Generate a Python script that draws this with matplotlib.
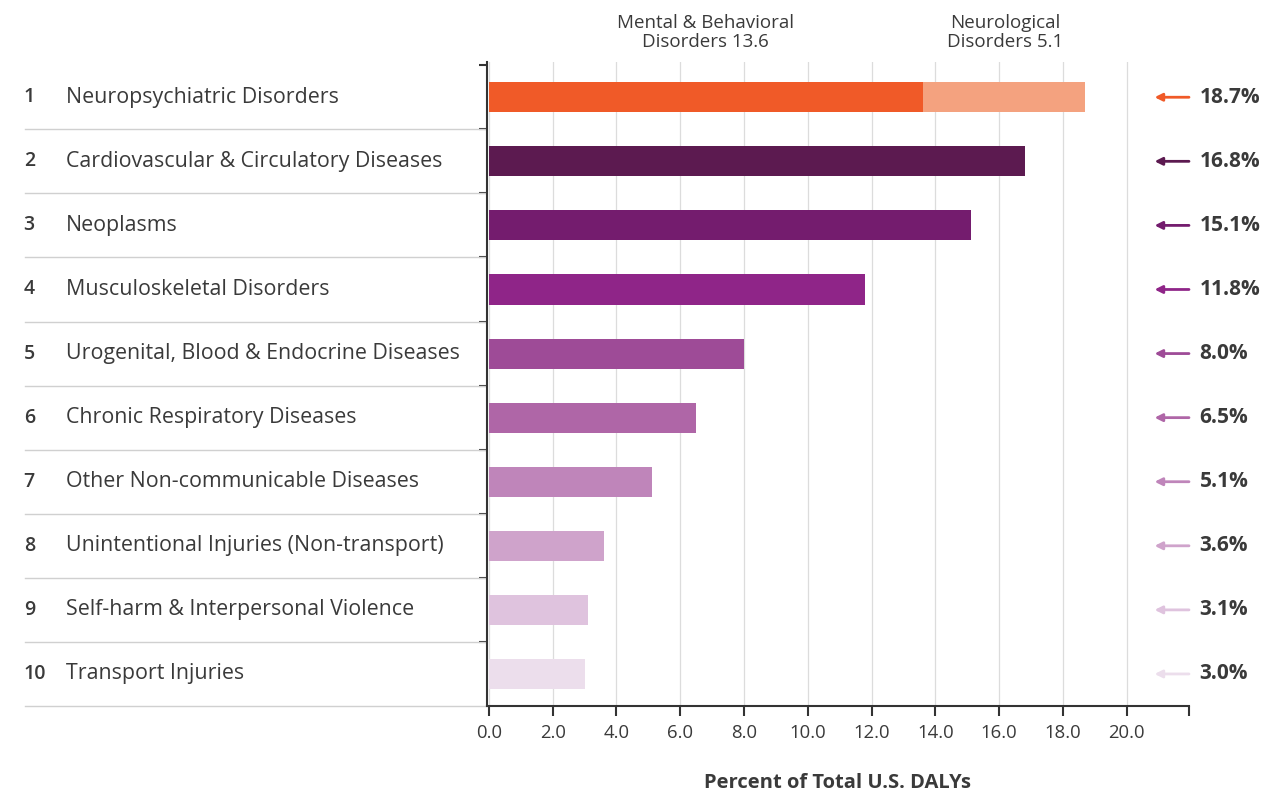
import matplotlib.pyplot as plt
import matplotlib.transforms as mtransforms

plt.rcParams['font.family'] = ['Open Sans', 'DejaVu Sans']

ranks = ['1', '2', '3', '4', '5', '6', '7', '8', '9', '10']
categories = ['Neuropsychiatric Disorders', 'Cardiovascular & Circulatory Diseases',
              'Neoplasms', 'Musculoskeletal Disorders',
              'Urogenital, Blood & Endocrine Diseases', 'Chronic Respiratory Diseases',
              'Other Non-communicable Diseases', 'Unintentional Injuries (Non-transport)',
              'Self-harm & Interpersonal Violence', 'Transport Injuries']
values = [18.7, 16.8, 15.1, 11.8, 8.0, 6.5, 5.1, 3.6, 3.1, 3.0]
mental = 13.6
neuro = 5.1
colors = ['#f05a28', '#5c1a50', '#741c6e', '#8f2588', '#9e4b97', '#af66a7',
          '#bf85ba', '#cfa3cb', '#dfc3de', '#ecdeec']
neuro_color = '#f4a27f'
xticks = [0, 2, 4, 6, 8, 10, 12, 14, 16, 18, 20]

txt = '#3a3a3a'

fig = plt.figure(figsize=(12.86, 7.91), dpi=100)
ax = fig.add_axes([487 / 1286, 1 - 706 / 791, 702 / 1286, 644 / 791])

y = list(range(len(values)))
# first row split into two parts
bar_vals = [mental] + values[1:]
ax.barh(y, bar_vals, height=0.47, color=colors, zorder=3)
ax.barh(0, neuro, left=mental, height=0.47, color=neuro_color, zorder=3)

ax.set_xlim(-0.06, 21.95)
ax.set_ylim(9.5, -0.55)

for t in xticks:
    ax.axvline(t, color='#dcdcdc', lw=0.9, zorder=1)

ax.set_xticks(xticks + [21.95])
ax.set_xticklabels(['%.1f' % t for t in xticks] + [''], fontsize=13.3, color=txt)
ax.tick_params(axis='x', length=7, width=1.5, color='#333333', pad=6)
ax.set_yticks([i - 0.5 for i in range(len(values))])
ax.set_yticklabels([])
ax.tick_params(axis='y', length=6, width=1.5, color='#333333')

for s in ['top', 'right']:
    ax.spines[s].set_visible(False)
for s in ['left', 'bottom']:
    ax.spines[s].set_linewidth(1.5)
    ax.spines[s].set_color('#333333')

ax.set_xlabel('Percent of Total U.S. DALYs', fontsize=14.5, fontweight='bold',
              color=txt, labelpad=22)

trans = mtransforms.blended_transform_factory(ax.transAxes, ax.transData)
for i in y:
    ax.text(-0.66, i, ranks[i], transform=trans, ha='left', va='center',
            fontsize=14, fontweight='semibold', color=txt)
    ax.text(-0.60, i, categories[i], transform=trans, ha='left', va='center',
            fontsize=15.4, color=txt)
    ax.plot([-0.658, -0.003], [i + 0.5, i + 0.5], transform=trans, color='#d0d0d0',
            lw=1, clip_on=False)
    ax.annotate('', xy=(0.951, i), xytext=(1.0, i), xycoords=trans, textcoords=trans,
                arrowprops=dict(arrowstyle='-|>', color=colors[i], lw=2,
                                mutation_scale=11, shrinkA=0, shrinkB=0))
    ax.text(1.015, i, '%.1f%%' % values[i], transform=trans, ha='left', va='center',
            fontsize=15, fontweight='bold', color=txt)

ax.text(6.8, -0.72, 'Mental & Behavioral\nDisorders %.1f' % mental,
        ha='center', va='bottom', fontsize=13.5, color=txt, linespacing=1.05)
ax.text(16.2, -0.72, 'Neurological\nDisorders %.1f' % neuro,
        ha='center', va='bottom', fontsize=13.5, color=txt, linespacing=1.05)

fig.savefig('out.png', dpi=100)
